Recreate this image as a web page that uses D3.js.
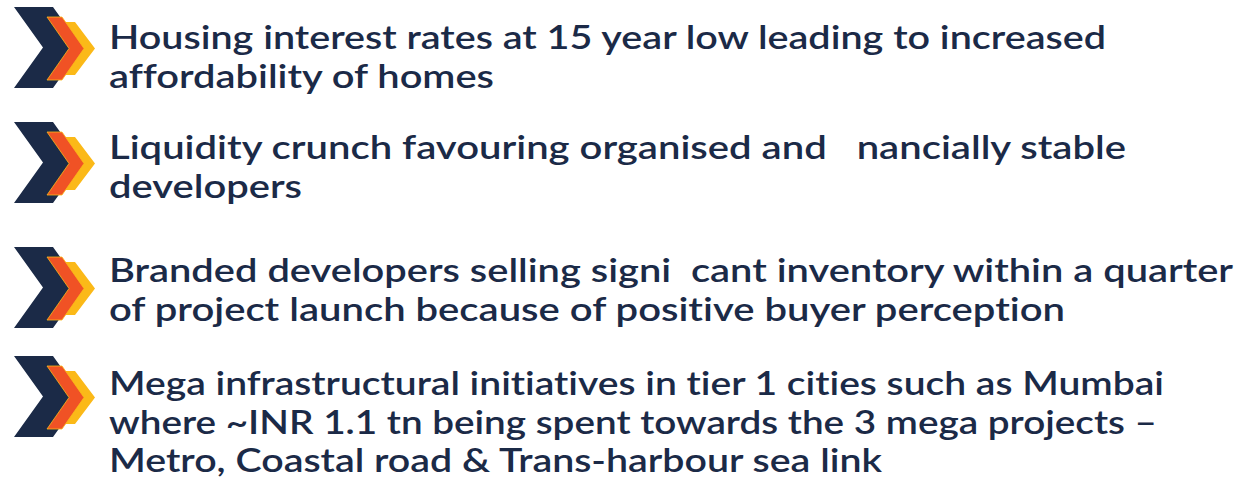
<!DOCTYPE html>
<html>
<head>
<meta charset="utf-8">
<script src="https://cdn.jsdelivr.net/npm/d3@7"></script>
<style>
  html, body { margin: 0; padding: 0; background: #fff; }
  svg { display: block; }
</style>
</head>
<body>
<div id="vizcont"></div>
<script>
// bullet points (text as it appears, incl. the missing "fi" ligatures)
var item1 = ["Housing interest rates at 15 year low leading to increased",
             "affordability of homes"];
var item2 = ["Liquidity crunch favouring organised and   nancially stable",
             "developers"];
var item3 = ["Branded developers selling signi  cant inventory within a quarter",
             "of project launch because of positive buyer perception"];
var item4 = ["Mega infrastructural initiatives in tier 1 cities such as Mumbai",
             "where ~INR 1.1 tn being spent towards the 3 mega projects \u2013",
             "Metro, Coastal road & Trans-harbour sea link"];
var items = [item1, item2, item3, item4];

// layout
var iconTop  = [7, 122, 247, 356];
var firstBase = [49, 159, 282, 395];
var lineGap = 38.6;
var lineWidths = [[997, 385], [1017, 193], [1124, 956], [1055, 1048, 773]];

var width = 1240, height = 482;
var textX = 109;
var navy = "#1b2a47", orange = "#f05225", yellow = "#fbb918";

var svg = d3.select("#vizcont")
            .append("svg")
            .attr("width", width)
            .attr("height", height);

// chevron: x0 left, w horizontal thickness, top, h height, d depth of the point
function chevron(x0, w, top, h, d) {
    var mid = top + h / 2;
    return [[x0, top], [x0 + w, top], [x0 + w + d, mid],
            [x0 + w, top + h], [x0, top + h], [x0 + d, mid]];
}
var line = d3.line().curve(d3.curveLinearClosed);

var g = svg.selectAll("g.item")
           .data(items)
           .enter()
           .append("g")
           .attr("class", "item");

g.each(function(d, i) {
    var gi = d3.select(this);
    var t = iconTop[i];

    // back to front: yellow, navy, orange
    gi.append("path")
      .attr("d", line(chevron(60, 15, t + 15, 53, 20)))
      .style("fill", yellow);
    gi.append("path")
      .attr("d", line(chevron(14, 39, t, 81, 29)))
      .style("fill", navy);
    gi.append("path")
      .attr("d", line(chevron(47, 15, t + 10, 63, 22)))
      .style("fill", orange)
      .style("stroke", yellow)
      .style("stroke-width", 0.8);

    gi.selectAll("text")
      .data(d)
      .enter()
      .append("text")
      .attr("x", textX)
      .attr("y", function(s, j) { return firstBase[i] + j * lineGap; })
      .attr("textLength", function(s, j) { return lineWidths[i][j]; })
      .attr("lengthAdjust", "spacingAndGlyphs")
      .style("font", "600 33px 'Lato'")
      .style("font-variant-ligatures", "none")
      .style("fill", navy)
      .style("white-space", "pre")
      .text(function(s) { return s; });
});
</script>
</body>
</html>
